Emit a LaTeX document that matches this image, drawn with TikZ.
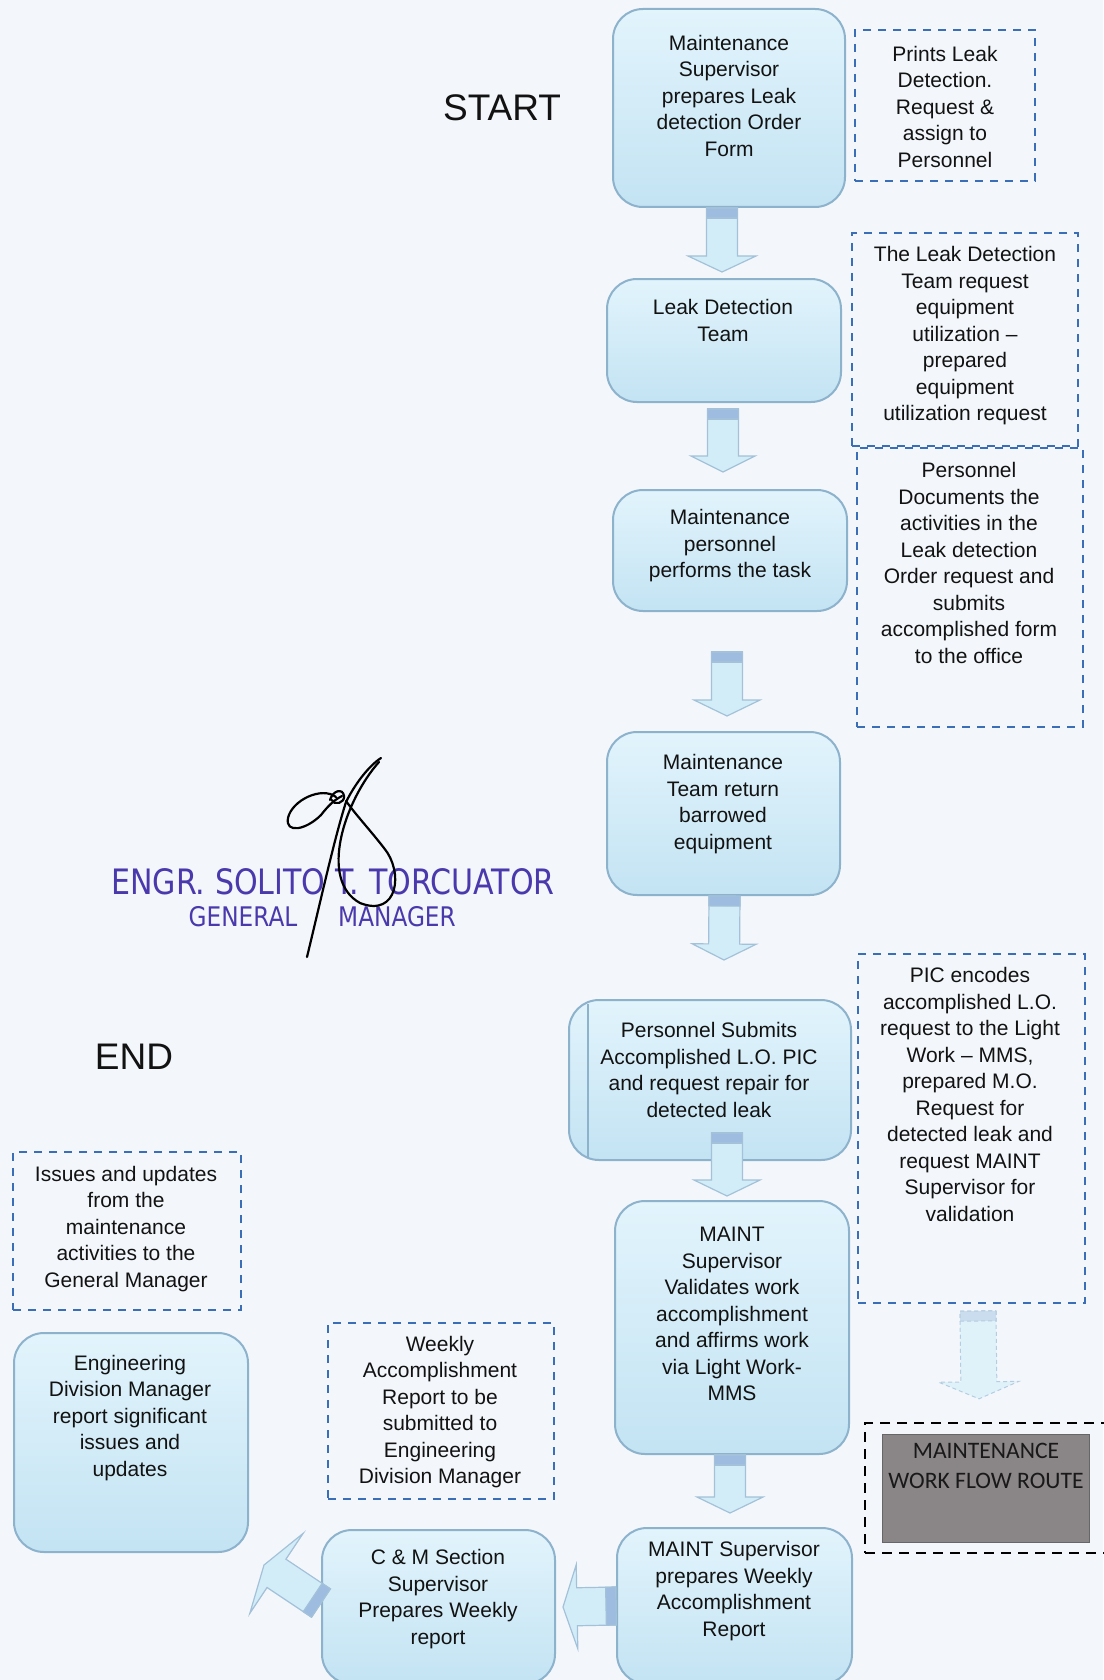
\documentclass[tikz,border=0pt]{standalone}
\usepackage{fontspec}
\setmainfont{Liberation Sans}
\newfontfamily\routefont{Carlito}
\newfontfamily\stampfont[FakeStretch=0.86]{DejaVu Sans}
\usetikzlibrary{calc,fit}

\definecolor{paper}{HTML}{F3F7FB}
\definecolor{boxtop}{HTML}{E2F4FC}
\definecolor{boxbot}{HTML}{C3E3F3}
\definecolor{boxline}{HTML}{8DB2CC}
\definecolor{noteblue}{HTML}{3A6FB8}
\definecolor{arrowfill}{HTML}{D2ECF8}
\definecolor{arrowline}{HTML}{A3C1D8}
\definecolor{arrowcap}{HTML}{9DBCE0}
\definecolor{faintcap}{HTML}{C9DDEE}
\definecolor{inkc}{HTML}{121212}
\definecolor{stampc}{HTML}{4A39AD}
\definecolor{routegrey}{HTML}{8A8587}

% block arrow: #1 start, #2 tip, #3 shaft half width, #4 head half width,
% #5 head length, #6 style, #7 colour of the band at the shaft start
\newcommand\blockarrow[7]{%
  \path ($(#2)!#5!(#1)$) coordinate (hb) ($(#1)!5pt!(#2)$) coordinate (cs);
  \filldraw[#6] ($(#1)!#3!90:(#2)$) -- ($(hb)!#3!90:(#2)$) -- ($(hb)!#4!90:(#2)$) -- (#2)
    -- ($(hb)!#4!-90:(#2)$) -- ($(hb)!#3!-90:(#2)$) -- ($(#1)!#3!-90:(#2)$) -- cycle;
  \filldraw[#6, fill=#7] ($(#1)!#3!90:(#2)$) -- ($(cs)!#3!90:(#2)$)
    -- ($(cs)!#3!-90:(#2)$) -- ($(#1)!#3!-90:(#2)$) -- cycle;
}

\begin{document}
\begin{tikzpicture}[x=0.5pt, y=-0.5pt,
  stepbox/.style={draw=boxline, line width=1pt, rounded corners=15pt,
    top color=boxtop, bottom color=boxbot, inner sep=0pt},
  notebox/.style={draw=noteblue, line width=1pt, dash pattern=on 4pt off 3.5pt, inner sep=0pt},
  txt/.style={align=center, font=\fontsize{10.5pt}{13.25pt}\selectfont, inner sep=0pt, text=inkc},
  bigtxt/.style={font=\fontsize{18.5pt}{22pt}\selectfont, inner sep=0pt, text=inkc},
  flow/.style={draw=arrowline, line width=0.6pt, fill=arrowfill, line join=miter},
  faint/.style={draw=arrowline!80, line width=0.5pt, dash pattern=on 2pt off 1.5pt, fill=arrowfill!70},
  stamp/.style={stampc, inner sep=0pt},
  sig/.style={draw=black, line width=1.1pt, line cap=round}]

\useasboundingbox (0,0) rectangle (1103,1680);
\fill[paper] (0,0) rectangle (1103,1680);

% main process boxes
\node[stepbox, fit={(613,9) (845,207)}] (b1) {};
\node[stepbox, fit={(607,279) (841,402)}] (b2) {};
\node[stepbox, fit={(613,490) (847,611)}] (b3) {};
\node[stepbox, fit={(607,732) (840,895)}] (b4) {};
\node[stepbox, fit={(569,1000) (851,1160)}] (b5) {};
\draw[boxline, line width=0.6pt] (588,1004) -- (588,1157);
\node[stepbox, fit={(615,1201) (849,1454)}] (b6) {};
\node[stepbox, fit={(617,1528) (852,1684)}] (b7) {};
\node[stepbox, fit={(322,1530) (555,1684)}] (b8) {};
\node[stepbox, fit={(14,1333) (248,1552)}] (beng) {};

% side notes
\node[notebox, fit={(855,30) (1035,181)}] (nA) {};
\node[notebox, fit={(852,233) (1078,446)}] (nB) {};
\node[notebox, fit={(857,448) (1083,727)}] (nC) {};
\node[notebox, fit={(858,954) (1085,1303)}] (nD) {};
\node[notebox, fit={(13,1152) (241,1310)}] (nE) {};
\node[notebox, fit={(328,1323) (554,1499)}] (nF) {};

% legend block
\node[draw=black, line width=1.2pt, dash pattern=on 5pt off 3.5pt, inner sep=0pt,
      fit={(865,1423) (1110,1553)}] (G) {};
\node[fill=routegrey, draw=black!60, line width=0.4pt, inner sep=0pt,
      fit={(882,1434) (1089,1542)}] (route) {};
\node[align=center, inner sep=0pt, text=black!90,
      font=\routefont\fontsize{11.8pt}{15pt}\selectfont] (routetxt) at (986,1466)
      {MAINTENANCE\\WORK FLOW ROUTE};

% texts
\node[txt] (t1) at (729,95.5) {Maintenance\\Supervisor\\prepares Leak\\detection Order\\Form};
\node[txt] (t2) at (723,320.5) {Leak Detection\\Team};
\node[txt] (t3) at (730,546) {Maintenance\\personnel\\performs the task};
\node[txt] (t4) at (723,804) {Maintenance\\Team return\\barrowed\\equipment};
\node[txt] (t5) at (709,1070) {Personnel Submits\\Accomplished L.O. PIC\\and request repair for\\detected leak};
\node[txt] (t6) at (732,1314) {MAINT\\Supervisor\\Validates work\\accomplishment\\and affirms work\\via Light Work-\\MMS};
\node[txt] (t7) at (734,1591) {MAINT Supervisor\\prepares Weekly\\Accomplishment\\Report};
\node[txt] (t8) at (438,1599) {C \& M Section\\Supervisor\\Prepares Weekly\\report};
\node[txt] (teng) at (130,1418) {Engineering\\Division Manager\\report significant\\issues and\\updates};

\node[txt] (tA) at (945,106.5) {Prints Leak\\Detection.\\Request \&\\assign to\\Personnel};
\node[txt] (tB) at (965,336) {The Leak Detection\\Team request\\equipment\\utilization --\\prepared\\equipment\\utilization request};
\node[txt] (tC) at (969,563) {Personnel\\Documents the\\activities in the\\Leak detection\\Order request and\\submits\\accomplished form\\to the office};
\node[txt] (tD) at (970,1094.5) {PIC encodes\\accomplished L.O.\\request to the Light\\Work -- MMS,\\prepared M.O.\\Request for\\detected leak and\\request MAINT\\Supervisor for\\validation};
\node[txt] (tE) at (126,1229) {Issues and updates\\from the\\maintenance\\activities to the\\General Manager};
\node[txt] (tF) at (440,1412) {Weekly\\Accomplishment\\Report to be\\submitted to\\Engineering\\Division Manager};

\node[bigtxt] (start) at (502,108) {START};
\node[bigtxt] (end) at (134,1057) {END};

% flow arrows
\blockarrow{$(b1.south)+(-7,0)$}{$(b2.north)+(-2,-6)$}{7.75pt}{17pt}{8pt}{flow}{arrowcap}
\blockarrow{$(b2.south)+(-1,6)$}{$(b3.north)+(-7,-17)$}{7.75pt}{16pt}{8pt}{flow}{arrowcap}
\blockarrow{$(b3.south)+(-3,40)$}{$(b4.north)+(3.5,-15)$}{7.75pt}{16.5pt}{8pt}{flow}{arrowcap}
\blockarrow{$(b4.south)+(1,0)$}{$(b5.north)+(14,-39)$}{7.75pt}{16pt}{8pt}{flow}{arrowcap}
\blockarrow{$(b5.south)+(17,-28)$}{$(b6.north)+(-5,-4)$}{7.75pt}{16.5pt}{8pt}{flow}{arrowcap}
\blockarrow{$(b6.south)+(-2,0)$}{$(b7.north)+(-4.5,-14)$}{7.75pt}{16.5pt}{8pt}{flow}{arrowcap}
\blockarrow{$(b7.west)$}{$(b8.east)+(7,0)$}{9.5pt}{21pt}{7pt}{flow}{arrowcap}
\blockarrow{$(b8.west)+(0,-4)$}{$(beng.south east)+(15,12)$}{8.5pt}{24pt}{7.5pt}{flow}{arrowcap}
\blockarrow{$(nD.south)+(6.5,7)$}{$(G.north)+(-8.5,-23)$}{9pt}{20pt}{8.5pt}{faint}{faintcap}

% approval stamp
\node[stamp, font=\stampfont\fontsize{17.5pt}{20pt}\selectfont] (stampname) at (333,882) {ENGR. SOLITO T. TORCUATOR};
\node[stamp, font=\stampfont\fontsize{13.5pt}{16pt}\selectfont] (stampgen) at (243,917) {GENERAL};
\node[stamp, font=\stampfont\fontsize{13.5pt}{16pt}\selectfont] (stampman) at (397,917) {MANAGER};

% handwritten signature
\draw[sig] (307,957) .. controls (322,895) and (334,840) .. (346,802)
  .. controls (356,782) and (370,765) .. (381,758);
\draw[sig] (379,762) .. controls (345,800) and (318,880) .. (360,903)
  .. controls (398,918) and (404,872) .. (384,848)
  .. controls (370,830) and (356,815) .. (346,801);
\draw[sig] (336,797) .. controls (322,786) and (292,800) .. (288,818)
  .. controls (285,834) and (306,830) .. (321,815)
  .. controls (328,806) and (334,800) .. (342,796);
\draw[sig] (330,800) .. controls (333,790) and (343,788) .. (344,796)
  .. controls (345,803) and (334,806) .. (332,800);
\end{tikzpicture}
\end{document}
